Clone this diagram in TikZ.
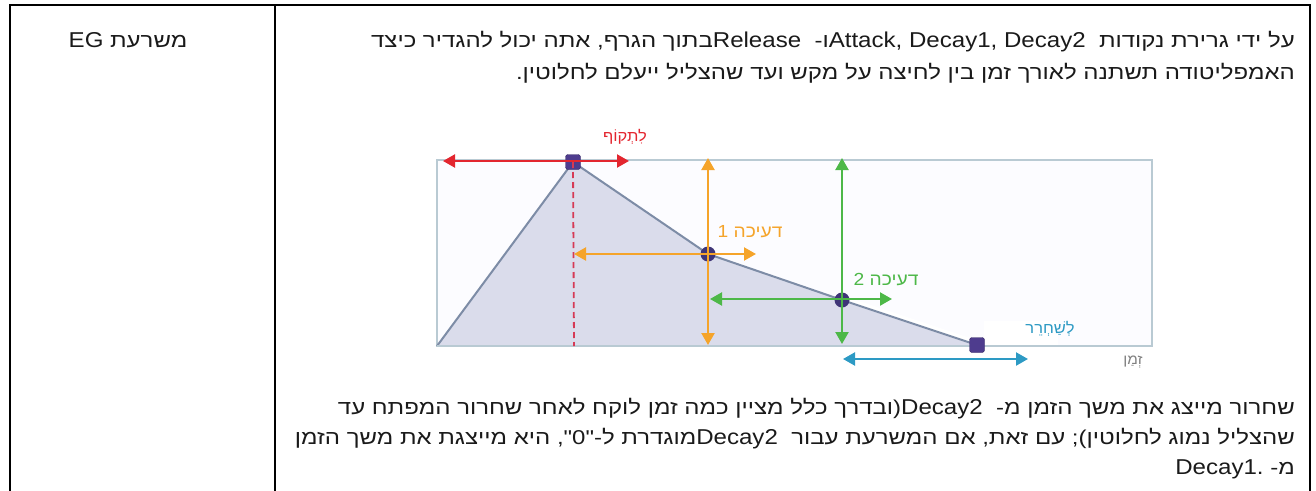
\documentclass[tikz,border=0pt]{standalone}
\usepackage{fontspec}
\setmainfont{Liberation Sans}
\newfontfamily\heb[Script=Hebrew,FakeStretch=1.2]{Liberation Sans}
\newfontfamily\hebl[Script=Hebrew,FakeStretch=1.1]{Liberation Sans}
\newfontfamily\lat[FakeStretch=1.12]{Liberation Sans}
\TeXXeTstate=1
\usetikzlibrary{arrows.meta}
\definecolor{rred}{HTML}{E3262F}
\definecolor{rdash}{HTML}{D63A55}
\definecolor{org}{HTML}{F5A42A}
\definecolor{grn}{HTML}{4DB848}
\definecolor{blu}{HTML}{2D9AC4}
\definecolor{env}{HTML}{7D8CA6}
\definecolor{envfill}{HTML}{DADCEB}
\definecolor{frm}{HTML}{B9CAD3}
\definecolor{dotc}{HTML}{3F3577}
\definecolor{sqc}{HTML}{4E3C8E}
\definecolor{txt}{HTML}{1A1A1A}
\newcommand{\lt}[1]{{\lat\fontsize{21.5}{24}\selectfont #1}}
\tikzset{
  grid line/.style={line width=1.6pt, black},
  bodytext/.style={inner sep=0pt, text=txt, font=\heb\fontsize{20}{24}\selectfont, anchor=base east},
  marksq/.style={fill=sqc, draw=sqc!70!black, rounded corners=2.5pt, minimum size=15pt, inner sep=0pt},
  markdot/.style={circle, fill=dotc, minimum size=15pt, inner sep=0pt},
  dbl/.style={line width=2.2pt, {Triangle[length=12pt,width=13pt]}-{Triangle[length=12pt,width=13pt]}},
  lbl/.style={inner sep=1pt, font=\hebl\fontsize{17.5}{20}\selectfont},
  smalllbl/.style={inner sep=1pt, font=\hebl\fontsize{15}{16}\selectfont},
}
\begin{document}
\begin{tikzpicture}[x=1pt,y=-1pt]
\useasboundingbox (0,0) rectangle (1316,490);
% table grid
\coordinate (tl) at (10,5);
\coordinate (tr) at (1310,5);
\coordinate (bl) at (10,492);
\coordinate (br) at (1310,492);
\coordinate (mt) at (275,5);
\coordinate (mb) at (275,492);
\draw[grid line] (bl) -- (tl) -- (tr) -- (br);
\draw[grid line] (mt) -- (mb);
% left cell
\node[bodytext, anchor=base] (hd) at (128,47) {\beginR משרעת \beginL\lt{EG}\endL\endR};
% right cell text
\node[bodytext] (t1) at (1295,47) {\beginR על ידי גרירת נקודות\ \ \beginL\lt{Attack, Decay1, Decay2}\endL ו-\ \ \beginL\lt{Release}\endL בתוך הגרף, אתה יכול להגדיר כיצד\endR};
\node[bodytext] (t2) at (1295,79) {\beginR האמפליטודה תשתנה לאורך זמן בין לחיצה על מקש ועד שהצליל ייעלם לחלוטין.\endR};
\node[bodytext] (b1) at (1295,414) {\beginR שחרור מייצג את משך הזמן מ-\ \ \beginL\lt{Decay2}\endL(ובדרך כלל מציין כמה זמן לוקח לאחר שחרור המפתח עד\endR};
\node[bodytext] (b2) at (1295,444) {\beginR שהצליל נמוג לחלוטין); עם זאת, אם המשרעת עבור\ \ \beginL\lt{Decay2}\endL מוגדרת ל-"0", היא מייצגת את משך הזמן\endR};
\node[bodytext] (b3) at (1295,474) {\beginR מ- \beginL\lt{Decay1.}\endL\endR};
% graph frame
\draw[frm, line width=1.8pt, fill=blue!1!white] (437,160) rectangle (1152,346);
% envelope
\coordinate (st) at (437,346);
\coordinate (pk) at (573,162);
\coordinate (d1) at (708,254);
\coordinate (d2) at (842,300);
\coordinate (rl) at (977,345);
\fill[envfill] (st) -- (pk) -- (d1) -- (d2) -- (rl) -- cycle;
\draw[white, line width=9pt, line cap=round] (d2) -- (rl);
\fill[envfill] (d2) -- (rl) -- (842,346) -- cycle;
\draw[env, line width=2pt, line join=round] (st) -- (pk) -- (d1) -- (d2) -- (rl);
\draw[frm, line width=1.8pt] (437,346) -- (977,346);
% release label box
\node[fill=white, minimum width=74pt, minimum height=24pt, anchor=south west, inner sep=0pt] (rbox) at (984,345) {};
\node[smalllbl, text=blu] (rlbl) at (1050,329) {\beginR לְשַׁחְרֵר\endR};
% markers
\node[marksq] (mpk) at (pk) {};
\node[markdot] (md1) at (d1) {};
\node[markdot] (md2) at (d2) {};
\node[marksq] (mrl) at (rl) {};
% red
\coordinate (ra) at (443,161);
\coordinate (rb) at (629,161);
\coordinate (rdb) at (574,346);
\draw[rdash, line width=1.8pt, dash pattern=on 6pt off 4pt] (mpk.center) -- (rdb);
\draw[dbl, rred] (ra) -- (rb);
\node[smalllbl, text=rred] (lat) at (625,137) {\beginR לִתְקוֹף\endR};
% orange
\coordinate (oa) at (708,158);
\coordinate (ob) at (708,345);
\coordinate (oc) at (574,254);
\coordinate (od) at (756,254);
\draw[dbl, org] (oa) -- (ob);
\draw[dbl, org] (oc) -- (od);
\node[lbl, text=org] (dec1) at (750,232) {\beginR דעיכה 1\endR};
% green
\coordinate (ga) at (842,158);
\coordinate (gb) at (842,344);
\coordinate (gc) at (710,299);
\coordinate (gd) at (892,299);
\draw[dbl, grn] (ga) -- (gb);
\draw[dbl, grn] (gc) -- (gd);
\node[lbl, text=grn] (dec2) at (886,280) {\beginR דעיכה 2\endR};
% blue
\coordinate (ba) at (843,359);
\coordinate (bb) at (1028,359);
\draw[dbl, blu] (ba) -- (bb);
% time label
\node[smalllbl, text=gray, font=\hebl\fontsize{14}{16}\selectfont] (zm) at (1133,362) {\beginR זְמַן\endR};
\end{tikzpicture}
\end{document}
